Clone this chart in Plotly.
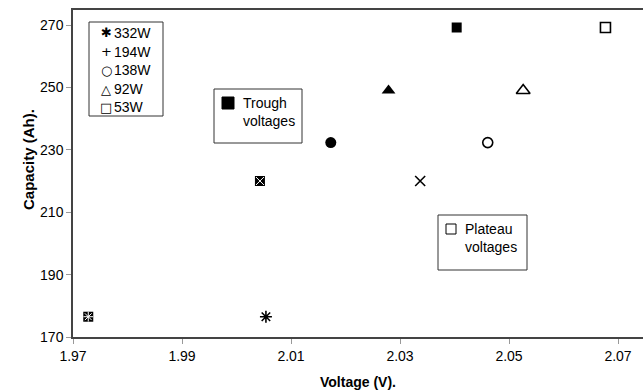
import plotly.graph_objects as go

# ---- data ----
powers = ["332W", "194W", "138W", "92W", "53W"]
capacity = [176.5, 220.0, 232.3, 249.0, 269.2]
trough_v = [1.9728, 2.0043, 2.0173, 2.0279, 2.0404]
plateau_v = [2.0054, 2.0337, 2.0461, 2.0526, 2.0677]
legend_glyphs = ["✱", "+", "○", "△", "□"]
x_ticks = [1.97, 1.99, 2.01, 2.03, 2.05, 2.07]
y_ticks = [170, 190, 210, 230, 250, 270]

trough_symbols = ["square", "square", "circle", "triangle-up", "square"]
trough_sizes = [10, 10, 11, 12, 10]
plateau_symbols = ["asterisk-open", "x-thin-open", "circle-open", "triangle-up-open", "square-open"]
plateau_sizes = [10, 10, 10, 12, 10]
overlay_symbols = ["asterisk-open", "x-thin-open", None, None, None]

W, H = 643, 391
L, R, T, B = 73, 0, 10, 54
pw, ph = W - L - R, H - T - B

def px(x):
    return (x - L) / pw

def py(y):
    return (H - B - y) / ph

FONT = "Liberation Sans, Arial, sans-serif"

fig = go.Figure()

fig.add_trace(go.Scatter(
    x=trough_v, y=capacity, mode="markers", showlegend=False,
    marker=dict(symbol=trough_symbols, size=trough_sizes, color="black", opacity=1,
                line=dict(color="black", width=0)),
))
ov_idx = [i for i, s in enumerate(overlay_symbols) if s]
fig.add_trace(go.Scatter(
    x=[trough_v[i] for i in ov_idx], y=[capacity[i] for i in ov_idx],
    mode="markers", showlegend=False,
    marker=dict(symbol=[overlay_symbols[i] for i in ov_idx], size=8,
                color="white", line=dict(color="white", width=1)),
))
fig.add_trace(go.Scatter(
    x=plateau_v, y=capacity, mode="markers", showlegend=False,
    marker=dict(symbol=plateau_symbols, size=plateau_sizes, color="black", opacity=1,
                line=dict(color="black", width=1.6)),
))

shapes = []
annotations = []

# legend box for powers
shapes.append(dict(type="rect", xref="paper", yref="paper",
                   x0=px(89), x1=px(163), y0=py(116), y1=py(22),
                   line=dict(color="#333", width=1), fillcolor="white", layer="above"))
rows = [32.5, 51.5, 70.5, 89.0, 107.0]
for g, name, yy in zip(legend_glyphs, powers, rows):
    annotations.append(dict(text=g, xref="paper", yref="paper", x=px(106), y=py(yy),
                            xanchor="center", yanchor="middle", showarrow=False,
                            font=dict(family="DejaVu Sans", size=13, color="black")))
    annotations.append(dict(text=name, xref="paper", yref="paper", x=px(112), y=py(yy),
                            xanchor="left", yanchor="middle", showarrow=False,
                            font=dict(family=FONT, size=14, color="black")))

# Trough box
shapes.append(dict(type="rect", xref="paper", yref="paper",
                   x0=px(214), x1=px(302), y0=py(143), y1=py(89),
                   line=dict(color="#333", width=1), fillcolor="white", layer="above"))
shapes.append(dict(type="rect", xref="paper", yref="paper",
                   x0=px(222), x1=px(234), y0=py(109), y1=py(97),
                   line=dict(color="black", width=1), fillcolor="black", layer="above"))
annotations.append(dict(text="Trough<br>voltages", xref="paper", yref="paper",
                        x=px(241), y=py(112.5), xanchor="left", yanchor="middle", align="left",
                        showarrow=False, font=dict(family=FONT, size=14, color="black")))

# Plateau box
shapes.append(dict(type="rect", xref="paper", yref="paper",
                   x0=px(438), x1=px(527), y0=py(270), y1=py(215),
                   line=dict(color="#333", width=1), fillcolor="white", layer="above"))
shapes.append(dict(type="rect", xref="paper", yref="paper",
                   x0=px(446), x1=px(456), y0=py(234), y1=py(224),
                   line=dict(color="black", width=1), fillcolor="white", layer="above"))
annotations.append(dict(text="Plateau<br>voltages", xref="paper", yref="paper",
                        x=px(463), y=py(238), xanchor="left", yanchor="middle", align="left",
                        showarrow=False, font=dict(family=FONT, size=14, color="black")))

# axis titles
annotations.append(dict(text="<b>Voltage (V).</b>", xref="paper", yref="paper",
                        x=px(358), y=py(382), xanchor="center", yanchor="middle",
                        showarrow=False, font=dict(family=FONT, size=14, color="black")))
annotations.append(dict(text="<b>Capacity (Ah).</b>", xref="paper", yref="paper",
                        x=px(28), y=py(160), xanchor="center", yanchor="middle", textangle=-90,
                        showarrow=False, font=dict(family=FONT, size=15, color="black")))

x_range = [1.97, 1.97 + pw / 109 * 0.02]
y_range = [170, 170 + ph / 3.12]

fig.update_layout(
    width=W, height=H,
    margin=dict(l=L, r=R, t=T, b=B, pad=0),
    paper_bgcolor="white", plot_bgcolor="white",
    shapes=shapes, annotations=annotations, showlegend=False,
    xaxis=dict(range=x_range, tickvals=x_ticks, ticktext=[f"{v:.2f}" for v in x_ticks],
               showgrid=False, zeroline=False, showline=True, linecolor="#444", linewidth=1.5,
               mirror=True, ticks="outside", ticklen=5, tickcolor="#999",
               tickfont=dict(family=FONT, size=14, color="black")),
    yaxis=dict(range=y_range, tickvals=y_ticks,
               showgrid=False, zeroline=False, showline=True, linecolor="#444", linewidth=1.5,
               ticks="outside", ticklen=5, tickcolor="#999",
               tickfont=dict(family=FONT, size=14, color="black")),
)

fig.write_html("out.html")
